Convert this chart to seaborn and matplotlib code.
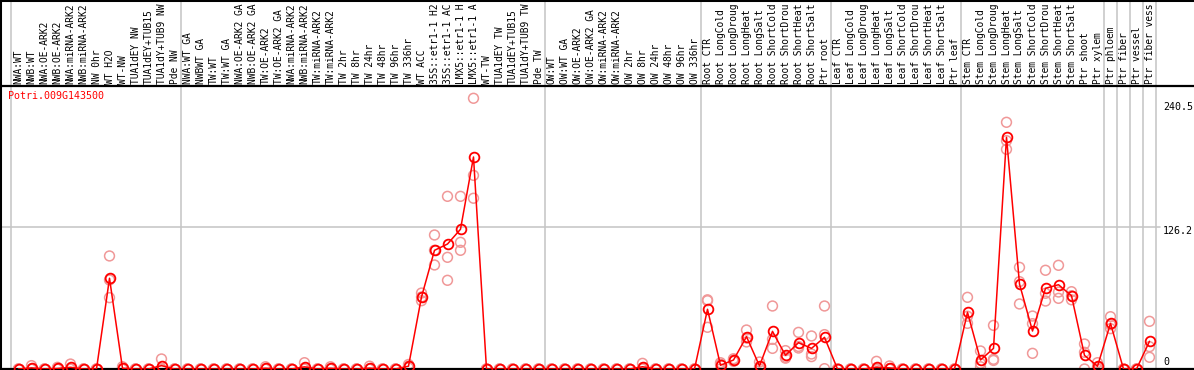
import numpy as np
import pandas as pd
import matplotlib
matplotlib.use("Agg")
import matplotlib.pyplot as plt
import seaborn as sns

gene = "Potri.009G143500"

labels = [
    "NWA:WT", "NWB:WT", "NWA:OE-ARK2", "NWB:OE-ARK2", "NWA:miRNA-ARK2", "NWB:miRNA-ARK2",
    "NW 0hr", "WT H2O", "WT-NW", "TUA1dEY NW", "TUA1dEY+TUB15", "TUA1dY+TUB9 NW", "Pde NW",
    "NWA:WT GA", "NWBWT GA", "TW:WT", "TW:WT GA", "NWA:OE-ARK2 GA", "NWB:OE-ARK2 GA",
    "TW:OE-ARK2", "TW:OE-ARK2 GA", "NWA:miRNA-ARK2", "NWB:miRNA-ARK2", "TW:miRNA-ARK2",
    "TW:miRNA-ARK2", "TW 2hr", "TW 8hr", "TW 24hr", "TW 48hr", "TW 96hr", "TW 336hr",
    "WT ACC", "35S::etr1-1 H2", "35S::etr1-1 AC", "LMX5::etr1-1 H", "LMX5::etr1-1 A",
    "WT-TW", "TUA1dEY TW", "TUA1dEY+TUB15", "TUA1dY+TUB9 TW", "Pde TW",
    "OW:WT", "OW:WT GA", "OW:OE-ARK2", "OW:OE-ARK2 GA", "OW:miRNA-ARK2", "OW:miRNA-ARK2",
    "OW 2hr", "OW 8hr", "OW 24hr", "OW 48hr", "OW 96hr", "OW 336hr",
    "Root CTR", "Root LongCold", "Root LongDroug", "Root LongHeat", "Root LongSalt",
    "Root ShortCold", "Root ShortDrou", "Root ShortHeat", "Root ShortSalt", "Ptr root",
    "Leaf CTR", "Leaf LongCold", "Leaf LongDroug", "Leaf LongHeat", "Leaf LongSalt",
    "Leaf ShortCold", "Leaf ShortDrou", "Leaf ShortHeat", "Leaf ShortSalt", "Ptr leaf",
    "Stem CTR", "Stem LongCold", "Stem LongDroug", "Stem LongHeat", "Stem LongSalt",
    "Stem ShortCold", "Stem ShortDrou", "Stem ShortHeat", "Stem ShortSalt", "Ptr shoot",
    "Ptr xylem", "Ptr phloem", "Ptr fiber", "Ptr vessel", "Ptr fiber vess",
]

group_sizes = [13, 28, 12, 10, 10, 11, 1, 1, 1, 1]

means = [
    0, 1, 0, 0.5, 1.5, 0, 0, 80.5, 0.7, 0, 0, 3, 0,
    0, 0, 0, 0, 0, 0, 0.7, 0, 0, 1.9, 0, 0.7, 0, 0, 0.8, 0, 0, 2.5,
    63.9, 105.3, 110.9, 124.0, 188.1, 0, 0, 0, 0, 0,
    0, 0, 0, 0, 0, 0, 0, 2, 0, 0, 0, 0,
    53.0, 3.3, 8.0, 28.7, 2.7, 33.4, 12.1, 23.4, 18.3, 28.1,
    0, 0, 0, 1.5, 1.0, 0, 0, 0, 0, 0,
    50.3, 8.0, 18.3, 205.6, 75.4, 33.7, 71.6, 74.8, 65.0, 12.1, 2.4,
    40.5, 0, 0, 24.6,
]

rep_a = [
    0, 3, 0, 1.5, 4.4, 0, 0, 100.3, 2, 0, 0, 8.9, 0,
    0, 0, 0, 0, 0, 0, 2, 0, 0, 5.6, 0, 2, 0, 0, 2.5, 0, 0, 4,
    67.4, 118.9, 153.2, 153.2, 240.2, 0, 0, 0, 0, 0,
    0, 0, 0, 0, 0, 0, 0, 5, 0, 0, 0, 0,
    60.6, 5.6, 9.1, 34.6, 6.2, 55.9, 16.3, 32.5, 29.3, 55.9,
    0, 0, 0, 6.8, 2.7, 0, 0, 0, 0, 0,
    63.6, 16, 38.7, 218.9, 90.2, 47.0, 87.6, 92.0, 68.6, 22.2, 5.6,
    46.4, 0, 0, 42.3,
]

rep_b = [
    0, 0, 0, 0, 0, 0, 0, 79.0, 0, 0, 0, 0, 0,
    0, 0, 0, 0, 0, 0, 0, 0, 0, 0, 0, 0, 0, 0, 0, 0, 0, 2.5,
    63.9, 105.3, 99.1, 112.4, 171.8, 0, 0, 0, 0, 0,
    0, 0, 0, 0, 0, 0, 0, 1, 0, 0, 0, 0,
    61.4, 4.3, 8.1, 27.5, 1.9, 26.3, 10.4, 20.0, 13.3, 30.5,
    0, 0, 0, 0, 0.3, 0, 0, 0, 0, 0,
    46.8, 5, 8.6, 202.6, 77.5, 40.2, 67.2, 68.3, 65.0, 14.8, 1.6,
    39.3, 0, 0, 19.8,
]

rep_c = [
    0, 0, 0, 0, 0, 0, 0, 63.3, 0, 0, 0, 0, 0,
    0, 0, 0, 0, 0, 0, 0, 0, 0, 0, 0, 0, 0, 0, 0, 0, 0, 1,
    60.6, 92.3, 78.7, 105.3, 151.5, 0, 0, 0, 0, 0,
    0, 0, 0, 0, 0, 0, 0, 0, 0, 0, 0, 0,
    37.0, 0, 6.8, 24.0, 0, 18.3, 9.6, 18.6, 11.0, 0.3,
    0, 0, 0, 0, 0, 0, 0, 0, 0, 0,
    40.5, 2, 7.6, 194.9, 57.7, 13.9, 60.3, 62.7, 61.4, 0, 0,
    35.8, 0, 0, 10.4,
]

y_ticks = [0, 126.2, 240.5]
y_tick_labels = ["0", "126.2", "240.5"]

# ---------------------------------------------------------------------------
sns.set_style("white")
plt.rcParams["font.family"] = ["DejaVu Sans Mono"]

W, H = 1194, 370
fig = plt.figure(figsize=(W / 100, H / 100), dpi=100)

label_h = 86          # pixel height of label band
plot_bottom = 1       # pixel offset of zero line from figure bottom
x0_pix, step = 18.5, 13.0
xlim = (-x0_pix / step, (W - x0_pix) / step)
ymax = 251.1

ax = fig.add_axes([0, plot_bottom / H, 1, (H - label_h - plot_bottom) / H])
lax = fig.add_axes([0, (H - label_h) / H, 1, label_h / H])

n = len(labels)
idx = np.arange(n)
df_mean = pd.DataFrame({"x": idx, "y": means})
df_rep = pd.DataFrame({
    "x": np.concatenate([idx, idx, idx]),
    "y": np.concatenate([rep_a, rep_b, rep_c]),
})

# group separators
bounds = np.cumsum(group_sizes) - 0.5
seps = np.concatenate([[-0.6], bounds])
for a in (ax, lax):
    for s in seps:
        a.axvline(s, color="#c4c4c4", lw=1.1, zorder=0)

ax.axhline(y_ticks[1], xmin=0, xmax=1160 / W, color="#c4c4c4", lw=1.1, zorder=0)

pink = "#F09898"
sns.scatterplot(data=df_rep, x="x", y="y", ax=ax, marker="o", s=50,
                facecolors="none", edgecolors=pink, linewidth=1.1, zorder=2,
                legend=False)
sns.lineplot(data=df_mean, x="x", y="y", ax=ax, color="#ff0000", lw=1.1,
             marker="o", markersize=7.0, markerfacecolor="none",
             markeredgecolor="#ff0000", markeredgewidth=1.3,
             estimator=None, sort=False, zorder=3, legend=False)

ax.set_xlim(*xlim)
ax.set_ylim(0, ymax)
ax.set_xlabel("")
ax.set_ylabel("")
ax.set_xticks([])
ax.set_yticks([])
ax.spines["right"].set_visible(False)
ax.spines["top"].set_visible(False)
ax.spines["left"].set_color("black")
ax.spines["left"].set_linewidth(2.2)
ax.spines["bottom"].set_color("black")
ax.spines["bottom"].set_linewidth(1.6)

# right-side value labels
offsets = {0: 7, 1: -4, 2: -9}
for k, (v, t) in enumerate(zip(y_ticks, y_tick_labels)):
    ax.annotate(t, xy=(1163 / W, v), xycoords=("axes fraction", "data"),
                xytext=(0, offsets[k]), textcoords="offset pixels",
                ha="left", va="center", fontsize=7.2, color="black",
                annotation_clip=False)

ax.text(8 / W, 1 - 5 / (H - label_h - plot_bottom), gene, transform=ax.transAxes,
        ha="left", va="top", fontsize=7.2, color="#ff0000")

# label band
lax.set_xlim(*xlim)
lax.set_ylim(0, 1)
lax.set_xticks([])
lax.set_yticks([])
lax.spines["right"].set_visible(False)
for side in ("top", "left"):
    lax.spines[side].set_color("black")
    lax.spines[side].set_linewidth(2.2)
lax.spines["bottom"].set_color("black")
lax.spines["bottom"].set_linewidth(1.6)
for i, lab in enumerate(labels):
    lax.annotate(lab, xy=(i, 0), xycoords="data", xytext=(0, 2),
                 textcoords="offset pixels", rotation=90, ha="center",
                 va="bottom", fontsize=6.9, color="black",
                 annotation_clip=False)

fig.savefig("out.png", dpi=100)
